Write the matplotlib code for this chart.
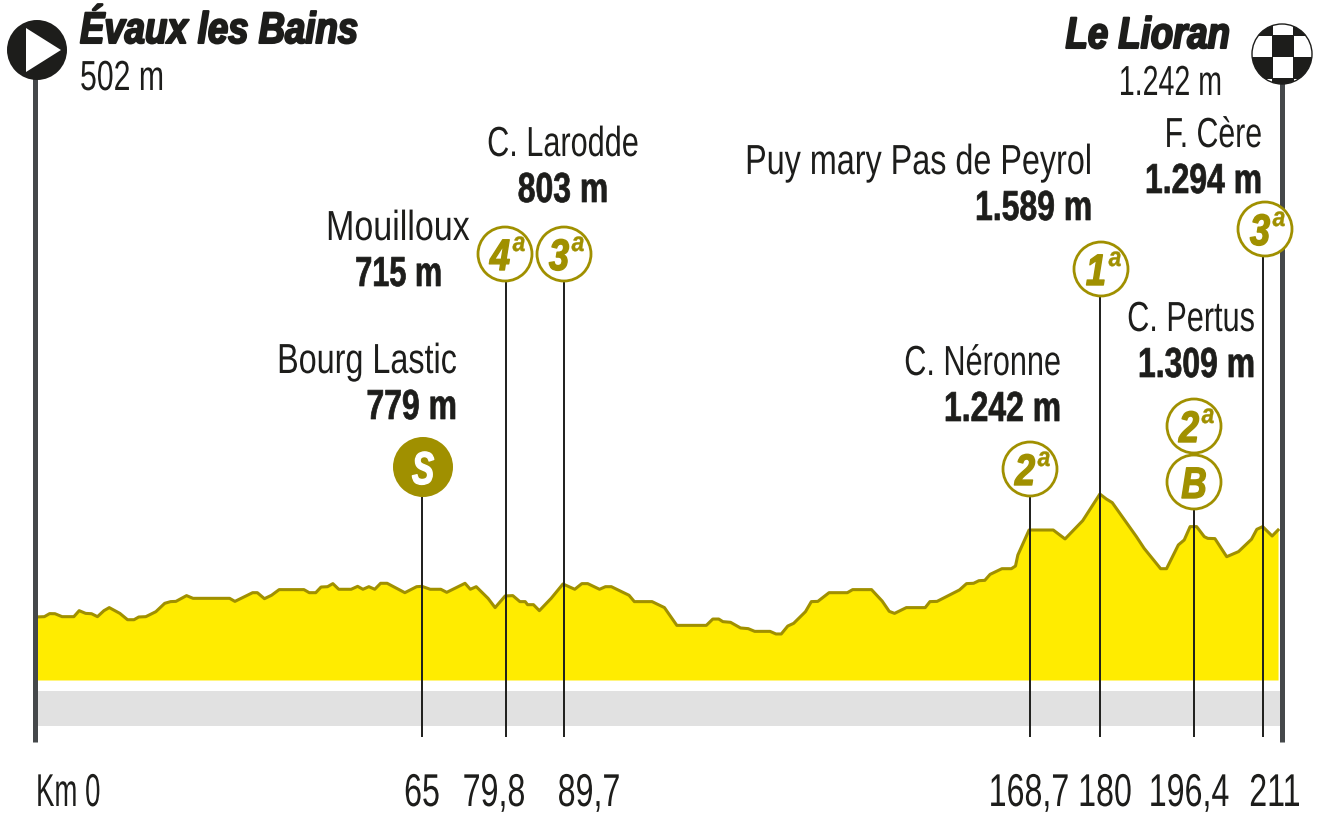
import matplotlib
matplotlib.use('Agg')
import matplotlib.pyplot as plt
from matplotlib.patches import Circle, Polygon, Rectangle
from matplotlib.patheffects import AbstractPathEffect
from matplotlib.transforms import Affine2D, Bbox

plt.rcParams['font.family'] = ['Liberation Sans', 'DejaVu Sans']

# profile
km = [0, 1.5, 2.4, 3.3, 4.5, 6.5, 7.4, 8.5, 9.5, 10.5, 11.6, 12.5, 14.3, 15.6, 16.7, 17.5, 18.7, 20.4,
      21.9, 22.9, 23.8, 25.6, 26.7, 32.9, 33.8, 36.8, 37.6, 38.8, 40.0, 41.3, 45.5, 46.4, 47.5, 48.4,
      49.5, 50.4, 51.4, 53.5, 54.6, 55.5, 56.5, 57.5, 58.5, 59.6, 62.6, 64.6, 65.5, 66.9, 68.7, 69.7,
      72.8, 73.7, 74.7, 76.7, 77.9, 79.6, 80.9, 82.1, 83.0, 83.4, 84.4, 85.4, 87.4, 89.4, 91.4, 92.6,
      93.6, 95.6, 96.6, 97.6, 100.6, 101.5, 104.5, 106.6, 108.7, 113.7, 114.8, 115.8, 116.5, 117.8,
      119.5, 120.8, 121.9, 124.5, 125.5, 126.4, 127.5, 128.5, 130.5, 131.5, 132.6, 134.5, 137.6, 138.5,
      141.7, 143.5, 144.7, 145.6, 147.6, 150.8, 151.6, 152.8, 156.6, 157.8, 159.0, 159.9, 160.9, 161.8,
      163.8, 165.4, 166.1, 166.5, 168.4, 172.5, 174.5, 177.5, 180.4, 181.5, 182.5, 186.6, 187.9, 190.7,
      191.7, 193.7, 194.7, 195.7, 196.8, 198.1, 198.7, 199.9, 201.9, 203.9, 206.1, 207.0, 208.0, 209.6,
      210.6]
elev = [502, 505, 532, 531, 505, 505, 558, 534, 531, 505, 558, 585, 534, 478, 478, 502, 505, 549,
        623, 638, 640, 691, 667, 667, 640, 717, 717, 664, 694, 744, 744, 717, 717, 767,
        770, 797, 747, 747, 773, 747, 770, 747, 800, 800, 717, 770, 773, 747, 747, 720,
        800, 747, 770, 667, 585, 688, 691, 638, 638, 611, 611, 558, 667, 794, 747, 797,
        797, 747, 770, 770, 694, 638, 638, 585, 428, 428, 484, 484, 461, 455,
        405, 399, 375, 375, 352, 352, 422, 446, 549, 638, 640, 717, 717, 744,
        744, 643, 552, 534, 585, 585, 638, 640, 741, 797, 800, 823, 826, 879,
        929, 929, 953, 1050, 1271, 1271, 1192, 1354, 1589, 1545, 1513, 1212, 1109, 929,
        929, 1139, 1183, 1301, 1301, 1212, 1197, 1195, 1035, 1080, 1189, 1277, 1301, 1218,
        1271]

mark_km = [65.5, 79.7, 89.5, 168.5, 180.5, 196.3, 208.1]
tick_labels = ['65', '79,8', '89,7', '168,7', '180', '196,4', '211']
tick_pos = [422, 494, 589, 1029, 1105, 1189, 1275]
line_tops = [497, 281, 281, 497, 297, 510, 257]

OLIVE = '#a09000'
YELLOW = '#ffec00'
DARK = '#1d1d1b'
POLE = '#45484a'
W, H = 1320, 816

fig = plt.figure(figsize=(13.2, 8.16), dpi=100)
ax = fig.add_axes([0, 0, 1, 1])
ax.set_xlim(-35.5 / 5.9, (W - 35.5) / 5.9)
ax.set_ylim(502 - (H - 617) * 8.84, 502 + 617 * 8.84)
ax.axis('off')
base = 502 - (680 - 617) * 8.84
ax.fill_between(km, elev, base, color=YELLOW, lw=0, zorder=2)
ax.plot(km, elev, color=OLIVE, lw=2.2, zorder=3, solid_joinstyle='round')

# overlay in pixels for the decorations
ov = fig.add_axes([0, 0, 1, 1])
ov.set_xlim(0, W)
ov.set_ylim(H, 0)
ov.axis('off')
ov.patch.set_alpha(0)


class Squeeze(AbstractPathEffect):
    # no condensed font installed, so narrow the glyphs around the anchor
    def __init__(self, anchor, factor, stroke=0):
        super().__init__()
        self.anchor = anchor
        self.factor = factor
        self.stroke = stroke

    def draw_path(self, renderer, gc, tpath, affine, rgbFace=None):
        narrow = affine + Affine2D().translate(-self.anchor, 0).scale(self.factor, 1).translate(self.anchor, 0)
        gc0 = renderer.new_gc()
        gc0.copy_properties(gc)
        gc0.set_linewidth(self.stroke)
        gc0.set_foreground(rgbFace)
        renderer.draw_path(gc0, tpath, narrow, rgbFace)
        gc0.restore()


def txt(x, y, s, px, squeeze, ha='right', color=DARK, stroke=0, **kw):
    t = ov.text(x, y, s, fontsize=px * 0.72, color=color, ha=ha, va='baseline', **kw)
    t.set_path_effects([Squeeze(x, squeeze, stroke)])
    full_extent = t.get_window_extent

    def narrow_extent(renderer=None, dpi=None):
        b = full_extent(renderer, dpi)
        return Bbox([[x + (b.x0 - x) * squeeze, b.y0], [x + (b.x1 - x) * squeeze, b.y1]])

    t.get_window_extent = narrow_extent
    return t


ov.add_patch(Rectangle((36, 691), 1246, 35, color='#e1e1e1', lw=0, zorder=0))
ov.plot([35, 35], [70, 742], color=POLE, lw=3.6, solid_capstyle='butt', zorder=1)
ov.plot([1282, 1282], [75, 742], color=POLE, lw=3.6, solid_capstyle='butt', zorder=1)

# climb lines
for k, top in zip(mark_km, line_tops):
    x = 35.5 + 5.9 * k
    ov.plot([x, x], [top, 737], color=DARK, lw=1.4, solid_capstyle='butt', zorder=4)

# tick labels
txt(36, 806, 'Km 0', 46, 0.6, ha='left')
for pos, lab in zip(tick_pos, tick_labels):
    txt(pos, 806, lab, 46, 0.7, ha='center')


def label(x, y, name, height, ha='right', sq=0.77):
    txt(x, y, name, 42, sq, ha=ha)
    txt(x, y + 46, height, 42, 0.76, ha=ha, fontweight='bold', stroke=0.5)


label(563, 156, 'C. Larodde', '803 m', ha='center', sq=0.73)
label(1092, 174, 'Puy mary Pas de Peyrol', '1.589 m')
label(1262, 147, 'F. Cère', '1.294 m', sq=0.72)
label(1255, 331, 'C. Pertus', '1.309 m', sq=0.73)
label(1061, 375, 'C. Néronne', '1.242 m', sq=0.73)
label(457, 373, 'Bourg Lastic', '779 m')
txt(470, 240, 'Mouilloux', 42, 0.81)
txt(442, 286, '715 m', 42, 0.73, fontweight='bold', stroke=0.5)

txt(80, 43, 'Évaux les Bains', 44, 0.83, ha='left', stroke=1.5, fontweight='bold', fontstyle='italic')
txt(80, 90, '502 m', 42, 0.72, ha='left')
txt(1230, 48, 'Le Lioran', 44, 0.83, stroke=1.5, fontweight='bold', fontstyle='italic')
txt(1222, 95, '1.242 m', 42, 0.68)


def climb(x, y, cat):
    ov.add_patch(Circle((x, y), 27, fc='white', ec=OLIVE, lw=2, zorder=5))
    t = txt(x - 5, y + 16, cat, 44, 0.82, ha='center', color=OLIVE, stroke=1, fontweight='bold', fontstyle='italic')
    t.set_zorder(6)
    t = txt(x + 14, y - 3, 'a', 27, 0.85, ha='center', color=OLIVE, stroke=0.3, fontweight='bold', fontstyle='italic')
    t.set_zorder(6)


climb(505, 254, '4')
climb(564, 254, '3')
climb(1030, 469, '2')
climb(1101, 269, '1')
climb(1194, 426, '2')
climb(1265, 229, '3')
ov.add_patch(Circle((1194, 482), 27, fc='white', ec=OLIVE, lw=2, zorder=5))
txt(1194, 498, 'B', 44, 0.8, ha='center', color=OLIVE, stroke=1, fontweight='bold', fontstyle='italic').set_zorder(6)

ov.add_patch(Circle((423, 467), 30, fc=OLIVE, ec='none', zorder=5))
txt(423, 484, 'S', 46, 0.72, ha='center', color='white', stroke=1, fontweight='bold', fontstyle='italic').set_zorder(6)

# start marker
ov.add_patch(Circle((37, 50), 30, fc=DARK, ec='none', zorder=5))
ov.add_patch(Polygon([(26, 28), (26, 72), (61, 50)], fc='white', ec='none', zorder=6))

# finish marker
clip = Circle((1282, 54), 30, fc='white', ec=DARK, lw=1, zorder=5)
ov.add_patch(clip)
xs = [1251, 1272, 1293]
ys = [14, 35, 57, 78]
for j, yy in enumerate(ys):
    for i, xx in enumerate(xs):
        if (i + j) % 2 == 0:
            r = Rectangle((xx, yy), 21.5, 21.5, fc=DARK, ec='none', zorder=6)
            ov.add_patch(r)
            r.set_clip_path(clip)

fig.savefig('out.png', dpi=100, facecolor='white')
